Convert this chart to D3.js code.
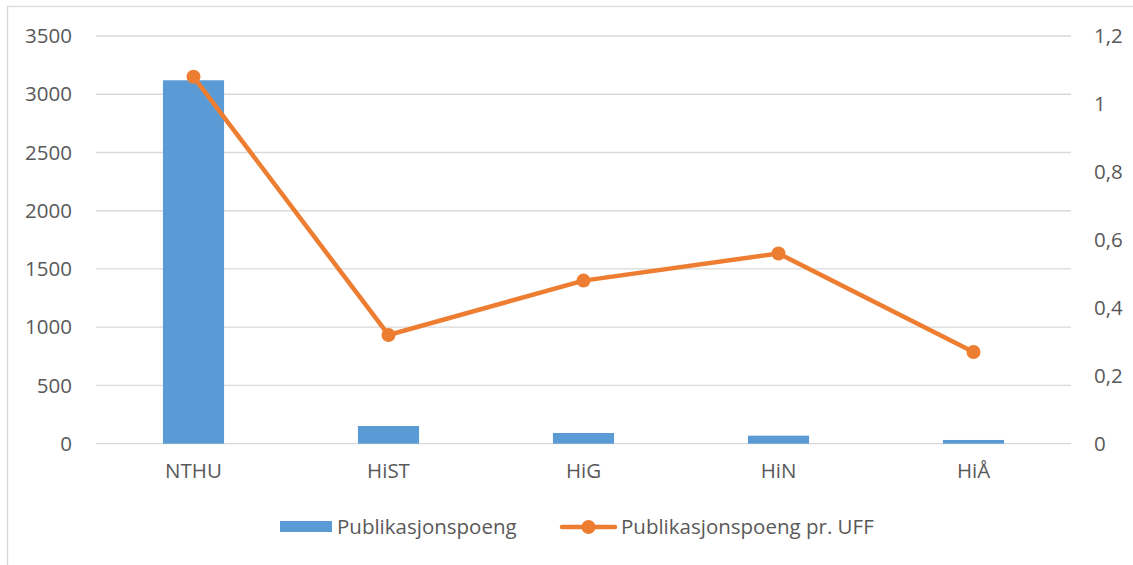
<!DOCTYPE html>
<html>
<head>
<meta charset="utf-8">
<script src="https://cdn.jsdelivr.net/npm/d3@7"></script>
<style>
  body { margin: 0; background: #fff; }
  text { font-family: "Open Sans", "Liberation Sans", sans-serif; fill: #595959; }
</style>
</head>
<body>
<div id="chart"></div>
<script>
// data
const categories = ["NTHU", "HiST", "HiG", "HiN", "HiÅ"];
const poeng = [3120, 152, 92, 69, 32];
const poeng_pr_uff = [1.08, 0.32, 0.48, 0.56, 0.27];
const left_ticks = [0, 500, 1000, 1500, 2000, 2500, 3000, 3500];
const right_ticks = [0, 0.2, 0.4, 0.6, 0.8, 1, 1.2];
const series_names = ["Publikasjonspoeng", "Publikasjonspoeng pr. UFF"];

const width = 1133, height = 565;
const plot = {left: 96, right: 1071, top: 36, bottom: 443.7};
const blue = "#5B9BD5", orange = "#ED7D31", grid = "#D9D9D9";
const fontSize = "20.5px";

const nb = d3.formatLocale({decimal: ",", thousands: "", grouping: [3], currency: ["", ""]});
const fmtLeft = nb.format("d");
const fmtRight = nb.format("~g");

let svg = d3.select("#chart").append("svg")
    .attr("width", width)
    .attr("height", height);

// chart area border
svg.append("rect")
    .attr("x", 7.5).attr("y", 6.5)
    .attr("width", width + 20).attr("height", height + 20)
    .attr("fill", "none")
    .attr("stroke", grid)
    .attr("stroke-width", 1.3);

let x = d3.scaleBand().domain(categories).range([plot.left, plot.right]).paddingInner(0).paddingOuter(0);
let yL = d3.scaleLinear().domain([0, 3500]).range([plot.bottom, plot.top]);
let yR = d3.scaleLinear().domain([0, 1.2]).range([plot.bottom, plot.top]);

// gridlines
svg.append("g")
    .attr("class", "grid")
    .selectAll("line")
    .data(left_ticks)
    .enter().append("line")
      .attr("x1", plot.left).attr("x2", plot.right)
      .attr("y1", function(d) { return yL(d); })
      .attr("y2", function(d) { return yL(d); })
      .attr("stroke", grid)
      .attr("stroke-width", 1.3);

// left axis
let axL = svg.append("g")
    .attr("transform", "translate(" + 72 + ",0)")
    .call(d3.axisLeft(yL).tickValues(left_ticks).tickFormat(fmtLeft).tickSize(0).tickPadding(0));
axL.select(".domain").remove();
axL.selectAll("text").style("font-size", fontSize).attr("fill", "#595959").attr("font-family", null);

// right axis
let axR = svg.append("g")
    .attr("transform", "translate(" + 1094 + ",0)")
    .call(d3.axisRight(yR).tickValues(right_ticks).tickFormat(fmtRight).tickSize(0).tickPadding(0));
axR.select(".domain").remove();
axR.selectAll("text").style("font-size", fontSize).attr("fill", "#595959").attr("font-family", null);

// bottom axis labels
let axB = svg.append("g")
    .attr("transform", "translate(0," + plot.bottom + ")")
    .call(d3.axisBottom(x).tickSize(0).tickPadding(20));
axB.select(".domain").remove();
axB.selectAll("text").style("font-size", fontSize).attr("fill", "#595959").attr("font-family", null);

// bars (gap width ~219%)
const barW = x.bandwidth() / 3.19;
svg.append("g").selectAll(".bar")
    .data(categories)
    .enter().append("rect")
      .attr("class", "bar")
      .attr("x", function(d) { return x(d) + (x.bandwidth() - barW) / 2; })
      .attr("y", function(d, i) { return yL(poeng[i]); })
      .attr("width", barW)
      .attr("height", function(d, i) { return plot.bottom - yL(poeng[i]); })
      .attr("fill", blue);

// line
let line = d3.line()
    .x(function(d, i) { return x(categories[i]) + x.bandwidth() / 2; })
    .y(function(d) { return yR(d); });

svg.append("path")
    .datum(poeng_pr_uff)
    .attr("d", line)
    .attr("fill", "none")
    .attr("stroke", orange)
    .attr("stroke-width", 4.5)
    .attr("stroke-linejoin", "round");

svg.append("g").selectAll("circle")
    .data(poeng_pr_uff)
    .enter().append("circle")
      .attr("cx", function(d, i) { return x(categories[i]) + x.bandwidth() / 2; })
      .attr("cy", function(d) { return yR(d); })
      .attr("r", 7)
      .attr("fill", orange);

// legend
let leg = svg.append("g").attr("class", "legend");
leg.append("rect")
    .attr("x", 280).attr("y", 521)
    .attr("width", 52).attr("height", 11)
    .attr("fill", blue);
leg.append("text")
    .attr("x", 337).attr("y", 527)
    .attr("dy", "0.35em")
    .style("font-size", fontSize)
    .text(series_names[0]);
leg.append("line")
    .attr("x1", 562).attr("x2", 615)
    .attr("y1", 527).attr("y2", 527)
    .attr("stroke", orange)
    .attr("stroke-width", 4.5)
    .attr("stroke-linecap", "round");
leg.append("circle")
    .attr("cx", 588.5).attr("cy", 527)
    .attr("r", 7)
    .attr("fill", orange);
leg.append("text")
    .attr("x", 621).attr("y", 527)
    .attr("dy", "0.35em")
    .style("font-size", fontSize)
    .text(series_names[1]);
</script>
</body>
</html>
